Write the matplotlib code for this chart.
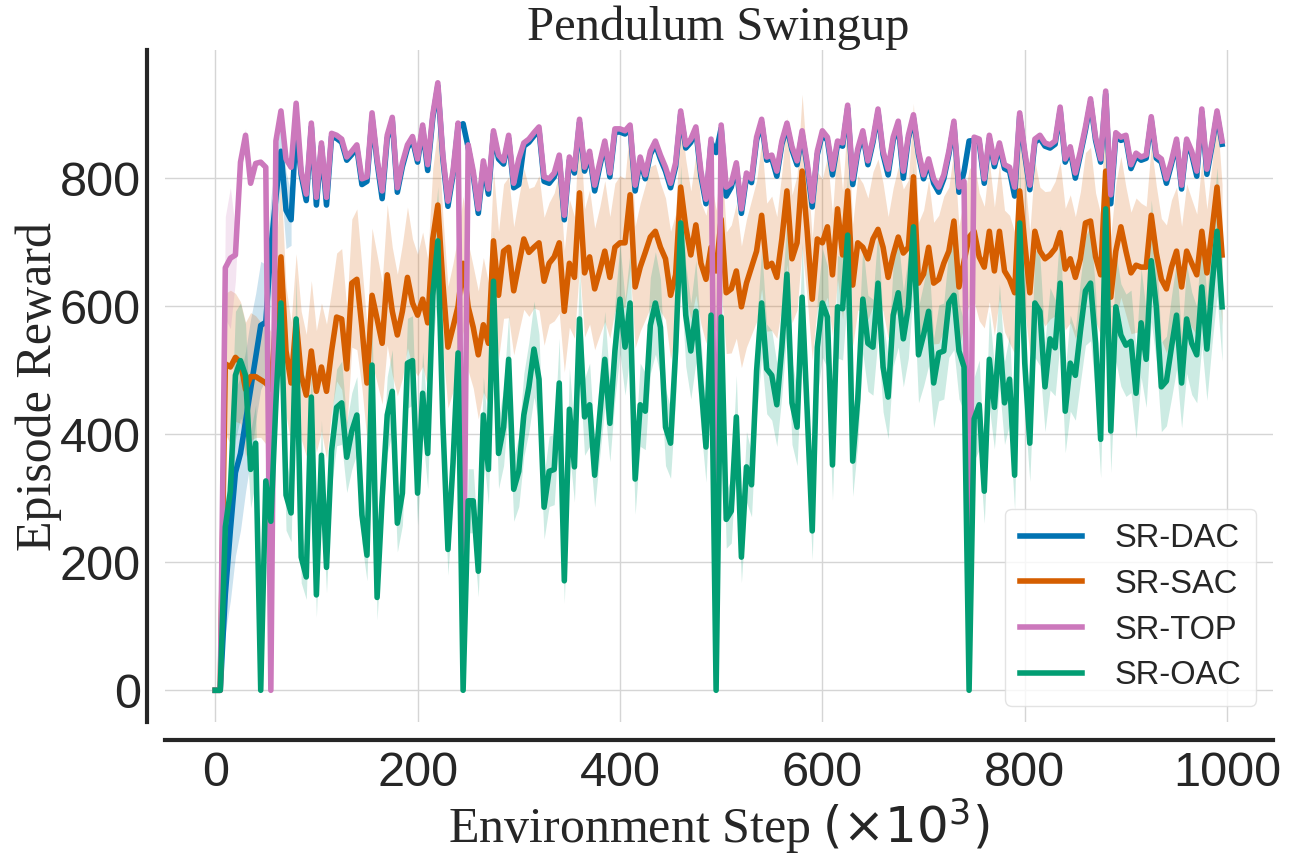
import numpy as np
import matplotlib
matplotlib.use("Agg")
import matplotlib.pyplot as plt

# environment steps (x1000)
steps = np.arange(0, 1000, 5)

# mean episode reward per method
top_mean = [
    0, 0, 660, 675, 680, 825, 867, 792, 823, 825, 817, 0, 858, 905, 830, 817, 917, 811, 775, 886,
    770, 855, 770, 870, 867, 861, 833, 842, 852, 799, 802, 902, 830, 780, 867, 895, 785, 824, 852, 865,
    830, 883, 821, 899, 949, 836, 764, 811, 886, 60, 852, 811, 752, 827, 783, 874, 836, 827, 867, 792,
    830, 855, 861, 871, 880, 802, 799, 808, 836, 742, 833, 814, 892, 817, 842, 789, 824, 858, 808, 877,
    877, 874, 883, 789, 833, 805, 842, 858, 836, 817, 792, 824, 905, 852, 861, 880, 811, 767, 861, 100,
    883, 786, 792, 824, 752, 808, 799, 864, 892, 833, 836, 811, 858, 886, 849, 827, 874, 824, 764, 842,
    874, 864, 814, 858, 855, 914, 799, 846, 874, 827, 861, 908, 842, 814, 864, 889, 811, 867, 899, 842,
    805, 830, 799, 786, 805, 842, 889, 786, 795, 100, 864, 861, 799, 867, 824, 855, 821, 817, 786, 902,
    842, 789, 861, 867, 855, 852, 858, 911, 830, 849, 808, 842, 880, 924, 864, 830, 936, 774, 871, 864,
    867, 821, 839, 833, 836, 896, 836, 830, 799, 827, 861, 789, 861, 842, 811, 908, 814, 855, 905, 858,
]
dac_mean = [
    0, 0, 150, 250, 340, 370, 420, 470, 520, 570, 575, 690, 770, 842, 750, 735, 880, 805, 765, 880,
    758, 850, 758, 865, 862, 856, 828, 837, 847, 790, 795, 895, 825, 768, 862, 890, 778, 818, 847, 860,
    825, 878, 812, 894, 944, 830, 756, 805, 880, 885, 848, 805, 745, 820, 775, 869, 830, 822, 862, 785,
    790, 850, 856, 866, 875, 795, 792, 802, 830, 735, 828, 808, 887, 811, 837, 780, 818, 853, 802, 872,
    872, 869, 878, 780, 828, 799, 837, 853, 830, 811, 785, 818, 900, 847, 856, 875, 803, 760, 856, 840,
    878, 772, 786, 818, 745, 802, 793, 859, 887, 828, 831, 803, 853, 881, 844, 821, 869, 818, 755, 837,
    869, 859, 805, 853, 850, 909, 790, 841, 869, 821, 856, 903, 837, 805, 859, 884, 800, 862, 894, 837,
    799, 825, 792, 778, 799, 837, 884, 778, 810, 858, 859, 856, 792, 862, 818, 850, 815, 811, 772, 897,
    837, 782, 856, 862, 850, 847, 853, 906, 825, 844, 800, 837, 875, 919, 859, 825, 931, 760, 866, 859,
    862, 815, 834, 828, 831, 891, 831, 825, 792, 822, 856, 783, 856, 837, 803, 903, 806, 850, 900, 853,
]
sac_mean = [
    0, 0, 510, 505, 520, 512, 470, 490, 490, 485, 480, 470, 580, 677, 530, 480, 577, 492, 461, 530,
    467, 505, 467, 530, 583, 580, 502, 636, 642, 567, 480, 617, 580, 542, 649, 592, 555, 592, 645, 605,
    586, 611, 574, 705, 758, 636, 536, 567, 600, 667, 599, 567, 524, 571, 542, 702, 617, 686, 692, 624,
    665, 705, 684, 692, 699, 639, 667, 677, 699, 592, 667, 645, 777, 652, 677, 627, 655, 686, 645, 692,
    699, 699, 774, 630, 661, 684, 708, 717, 692, 674, 617, 649, 786, 724, 680, 727, 667, 642, 692, 655,
    736, 621, 627, 655, 599, 636, 661, 686, 742, 661, 667, 645, 705, 780, 674, 699, 811, 717, 611, 705,
    699, 724, 649, 752, 680, 780, 633, 699, 692, 674, 705, 720, 692, 645, 680, 708, 683, 692, 802, 636,
    650, 692, 636, 642, 667, 686, 733, 630, 670, 708, 717, 677, 661, 717, 655, 717, 655, 642, 621, 780,
    699, 621, 717, 686, 674, 680, 690, 715, 658, 674, 645, 674, 730, 733, 677, 649, 811, 614, 686, 724,
    686, 652, 664, 661, 661, 742, 683, 642, 627, 661, 686, 630, 686, 667, 649, 717, 652, 717, 786, 680,
]
oac_mean = [
    0, 0, 255, 311, 492, 515, 492, 345, 386, 0, 327, 264, 449, 605, 305, 277, 580, 208, 177, 458,
    149, 367, 192, 374, 442, 449, 364, 405, 430, 274, 211, 508, 145, 300, 430, 467, 261, 308, 511, 515,
    308, 464, 370, 617, 702, 417, 220, 355, 527, 0, 296, 296, 186, 430, 345, 639, 370, 411, 517, 314,
    342, 430, 474, 533, 486, 286, 342, 345, 480, 171, 439, 349, 580, 427, 446, 336, 430, 517, 417, 530,
    611, 536, 605, 330, 446, 436, 570, 605, 567, 411, 386, 530, 730, 586, 530, 592, 480, 380, 586, 0,
    583, 267, 280, 427, 208, 349, 321, 499, 605, 502, 492, 446, 536, 650, 449, 411, 614, 436, 249, 536,
    605, 583, 352, 599, 596, 711, 358, 455, 611, 542, 536, 636, 505, 458, 586, 621, 549, 599, 724, 524,
    555, 592, 480, 527, 530, 605, 617, 530, 505, 0, 424, 446, 311, 517, 442, 555, 449, 486, 336, 730,
    511, 386, 605, 592, 474, 549, 535, 636, 436, 511, 492, 561, 624, 636, 542, 392, 752, 405, 599, 555,
    539, 545, 464, 574, 517, 671, 599, 474, 483, 536, 586, 480, 580, 542, 524, 630, 533, 630, 717, 599,
]

# confidence band half-widths
sac_err = [
    0, 0, 110, 120, 100, 95, 105, 100, 95, 90, 95, 90, 110, 120, 100, 95, 105, 100, 95, 110,
    95, 100, 105, 95, 100, 110, 95, 100, 110, 95, 90, 105, 100, 95, 110, 100, 95, 105, 110, 100,
    95, 105, 100, 110, 120, 105, 95, 100, 110, 105, 100, 95, 100, 105, 95, 110, 100, 105, 110, 100,
    105, 110, 100, 95, 105, 100, 95, 100, 110, 95, 100, 95, 115, 100, 105, 95, 100, 110, 95, 100,
    105, 100, 115, 95, 100, 105, 110, 105, 100, 95, 100, 95, 115, 105, 100, 110, 95, 100, 105, 95,
    110, 95, 100, 105, 95, 100, 105, 110, 115, 100, 105, 95, 105, 115, 100, 105, 120, 105, 95, 105,
    100, 110, 95, 110, 100, 115, 95, 105, 100, 95, 105, 110, 100, 95, 105, 110, 100, 105, 115, 95,
    100, 105, 95, 100, 105, 100, 110, 95, 100, 105, 110, 100, 95, 110, 100, 105, 95, 100, 95, 115,
    105, 95, 110, 100, 105, 100, 105, 110, 95, 100, 95, 105, 110, 115, 100, 95, 120, 95, 105, 110,
    100, 95, 105, 100, 95, 110, 105, 95, 100, 105, 100, 95, 105, 100, 95, 110, 100, 105, 115, 110,
]
oac_err = [
    0, 0, 40, 70, 100, 90, 80, 60, 60, 0, 50, 40, 60, 70, 55, 45, 65, 40, 35, 60,
    35, 55, 40, 55, 60, 65, 55, 60, 60, 45, 40, 70, 35, 50, 60, 65, 45, 50, 70, 70,
    50, 65, 55, 75, 85, 60, 40, 55, 70, 0, 50, 50, 40, 60, 55, 80, 55, 60, 70, 50,
    55, 65, 70, 75, 70, 50, 55, 55, 70, 35, 65, 55, 80, 60, 65, 50, 65, 75, 60, 75,
    85, 75, 80, 55, 65, 60, 75, 80, 75, 60, 55, 75, 90, 80, 75, 80, 70, 55, 80, 0,
    80, 45, 50, 65, 40, 55, 50, 70, 85, 70, 70, 65, 75, 90, 65, 60, 85, 65, 45, 75,
    85, 80, 55, 80, 80, 95, 55, 70, 85, 75, 75, 85, 70, 65, 80, 85, 75, 80, 95, 75,
    80, 85, 70, 75, 75, 85, 85, 75, 70, 0, 65, 70, 50, 75, 65, 80, 65, 70, 55, 95,
    75, 60, 85, 85, 70, 80, 75, 90, 65, 75, 70, 80, 85, 90, 80, 60, 100, 65, 85, 80,
    80, 80, 70, 85, 75, 95, 85, 70, 70, 80, 85, 70, 85, 80, 75, 90, 80, 90, 100, 85,
]
# early-training bands (first points only, later ones are negligible)
dac_err = [0, 0, 60, 110, 130, 120, 110, 110, 100, 100, 90, 80, 60, 50, 60, 40]
top_err = [0, 0, 80, 110, 40, 20, 10]

methods = ["SR-DAC", "SR-SAC", "SR-TOP", "SR-OAC"]
colors = ["#0173b2", "#d55e00", "#cc78bc", "#029e73"]
means = [dac_mean, sac_mean, top_mean, oac_mean]
errs = [dac_err, sac_err, top_err, oac_err]

plt.rcParams["font.family"] = ["Liberation Sans", "DejaVu Sans"]

fig = plt.figure(figsize=(12.96, 8.64), dpi=100)
ax = fig.add_axes([0.127, 0.164, 0.855, 0.778])

for name, col, m, e in zip(methods, colors, means, errs):
    m = np.array(m, dtype=float)
    e = np.array(e, dtype=float)
    n = len(e)
    ax.fill_between(steps[:n], m[:n] - e, m[:n] + e, color=col, alpha=0.2, linewidth=0)
    ax.plot(steps, m, color=col, linewidth=4.0, label=name)

ax.set_xlim(-50, 1045)
ax.set_ylim(-50, 1000)
ax.set_xticks([0, 200, 400, 600, 800, 1000])
ax.set_yticks([0, 200, 400, 600, 800])
ax.grid(True, color="#d5d5d5", linewidth=1.0)
ax.set_axisbelow(True)
ax.tick_params(axis="x", length=0, labelsize=35, colors="#262626", pad=8)
ax.tick_params(axis="y", length=0, labelsize=35, colors="#262626", pad=4)

for s in ["top", "right"]:
    ax.spines[s].set_visible(False)
for s in ["left", "bottom"]:
    ax.spines[s].set_color("#262626")
    ax.spines[s].set_linewidth(3)
    ax.spines[s].set_position(("outward", 13))

ax.set_title("Pendulum Swingup", fontsize=35, family="Liberation Serif", color="#262626", pad=-2)
ax.set_ylabel("Episode Reward", fontsize=36, family="Liberation Serif", color="#262626")
ax.yaxis.set_label_coords(-0.093, 0.5)
ax.set_xlabel(r"Environment Step $(\times 10^3)$", fontsize=36, family="Liberation Serif",
              color="#262626", labelpad=0)

leg = ax.legend(loc="lower right", fontsize=23.5, handlelength=1.9, frameon=True,
                borderpad=0.45, labelspacing=0.45, handletextpad=1.0)
leg.get_frame().set_edgecolor("#dddddd")
for t in leg.get_texts():
    t.set_color("#262626")

fig.savefig("out.png", dpi=100)
